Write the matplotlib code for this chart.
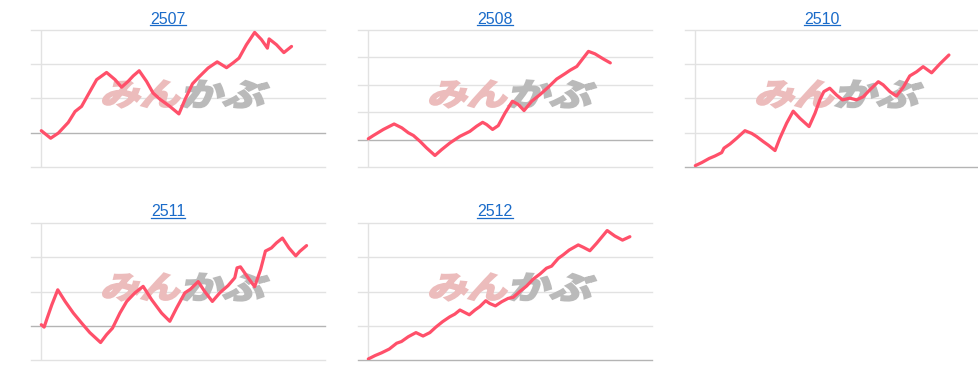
import matplotlib
matplotlib.use("Agg")
import matplotlib.pyplot as plt
from matplotlib.textpath import TextPath
from matplotlib.patches import PathPatch
from matplotlib.font_manager import FontProperties
from matplotlib.transforms import Affine2D, IdentityTransform
from matplotlib.lines import Line2D

# ---------------- data (x: position within the period, 0-100; y: change) ----------------
names = ["2507", "2508", "2510", "2511", "2512"]

x_2507 = [0, 3.3, 6.0, 9.5, 11.9, 14.2, 16.5, 19.5, 23.0, 26.0, 28.3, 30.6, 32.4, 34.5, 37.1,
          39.4, 41.8, 45.3, 48.5, 50.6, 53.3, 55.6, 58.8, 62.0, 65.3, 67.6, 69.7, 72.3, 75.2,
          77.6, 79.7, 80.3, 82.9, 85.5, 88.2]
y_2507 = [0.6, -1.6, -0.1, 3.0, 6.2, 7.7, 11.1, 15.5, 17.6, 15.5, 13.3, 15.0, 16.6, 18.1, 15.0,
          11.6, 9.8, 7.7, 5.5, 9.6, 14.3, 16.3, 18.9, 20.7, 19.0, 20.4, 21.8, 25.7, 29.3,
          27.2, 24.7, 27.4, 25.7, 23.4, 25.2]

x_2508 = [0, 1.8, 5.3, 9.1, 11.8, 14.1, 15.9, 18.2, 20.5, 23.5, 25.8, 28.8, 32.3, 35.8, 38.2,
          40.3, 41.7, 43.8, 45.8, 48.2, 50.8, 52.9, 54.9, 57.6, 60.5, 63.5, 66.4, 69.4, 71.1,
          73.5, 75.8, 77.6, 79.9, 82.9, 85.3]
y_2508 = [0.3, 1.5, 3.7, 5.7, 4.3, 2.5, 1.5, -0.6, -3.0, -5.8, -3.7, -1.2, 1.2, 3.0, 4.9,
          6.3, 5.5, 3.7, 5.1, 9.7, 14.0, 12.8, 10.6, 14.0, 16.4, 19.2, 22.1, 24.1, 25.3,
          26.7, 29.8, 32.2, 31.3, 29.4, 28.0]

x_2510 = [0, 2.3, 4.9, 6.9, 9.3, 10.1, 12.2, 14.6, 17.5, 19.9, 21.6, 24.0, 25.7, 28.1, 29.8,
          32.2, 34.5, 36.9, 40.1, 42.2, 43.9, 45.3, 47.4, 49.8, 51.9, 54.5, 56.8, 59.2, 61.5,
          64.5, 66.2, 68.6, 70.9, 73.3, 75.6, 78.0, 80.3, 83.3, 86.2, 89.4]
y_2510 = [0.4, 1.3, 2.5, 3.2, 4.2, 5.5, 6.7, 8.4, 10.6, 9.8, 8.9, 7.4, 6.4, 4.8, 8.4,
          12.8, 16.3, 14.2, 11.8, 15.7, 19.6, 22.0, 23.0, 21.0, 19.6, 20.1, 19.6, 20.5, 22.5,
          24.9, 24.0, 22.0, 20.7, 23.3, 26.6, 27.8, 29.3, 27.5, 30.1, 32.7]

x_2511 = [0, 1.0, 2.1, 3.7, 5.8, 8.4, 11.3, 14.2, 17.1, 20.9, 23.0, 25.1, 27.7, 30.1, 33.0,
          35.9, 38.9, 42.4, 45.3, 47.7, 50.6, 52.6, 55.3, 57.6, 60.3, 62.9, 65.8, 68.2, 69.0,
          70.2, 72.9, 75.2, 77.3, 79.0, 81.1, 82.9, 85.0, 87.3, 89.7, 91.1, 93.5]
y_2511 = [0.3, -0.4, 2.3, 6.1, 10.5, 7.1, 3.7, 0.8, -2.0, -4.9, -2.6, -0.7, 3.7, 7.1, 9.6,
          11.5, 7.6, 3.7, 1.3, 5.2, 9.6, 10.7, 12.9, 10.0, 7.1, 9.6, 11.7, 14.0, 16.9,
          17.2, 14.0, 11.4, 16.4, 21.8, 22.7, 24.2, 25.6, 22.7, 20.4, 21.7, 23.4]

x_2512 = [0, 2.4, 4.7, 7.4, 10.0, 11.7, 14.1, 16.8, 19.3, 21.7, 23.8, 26.2, 28.7, 30.5, 32.3,
          35.6, 37.6, 39.3, 41.4, 42.8, 44.8, 47.0, 49.3, 51.1, 53.4, 55.8, 58.1, 60.5, 62.8,
          64.6, 67.0, 68.7, 70.8, 74.0, 75.8, 78.1, 80.5, 82.2, 84.2, 86.9, 89.6, 92.2]
y_2512 = [0.3, 1.3, 2.1, 3.2, 4.9, 5.4, 6.8, 8.0, 7.0, 8.0, 9.6, 11.2, 12.6, 13.4, 14.6,
          13.2, 14.6, 15.6, 17.3, 16.5, 15.8, 17.0, 18.0, 18.3, 20.0, 21.6, 23.6, 25.1, 26.8,
          27.4, 29.7, 30.7, 32.1, 33.6, 32.9, 31.9, 34.1, 35.8, 37.8, 36.2, 35.0, 36.0]

xs = [x_2507, x_2508, x_2510, x_2511, x_2512]
ys = [y_2507, y_2508, y_2510, y_2511, y_2512]
y_ranges = [(-10, 30), (-10, 40), (0, 40), (-10, 30), (0, 40)]

# ---------------- style ----------------
LINE = "#ff506a"
GRID = "#e2e2e2"
BASE = "#b4b4b4"
TITLE = "#1a6bc9"
PINK = "#ecbcbc"
GREY = "#bababa"

W, H = 979, 382
fig = plt.figure(figsize=(W / 100, H / 100), dpi=100)
fig.patch.set_facecolor("white")

jp = FontProperties(family="Noto Sans CJK JP", weight="bold")


def watermark(ax):
    cx, cy = ax.transAxes.transform((0.524, 0.533))
    parts = [("みん", PINK, -80, -4), ("かぶ", GREY, 0, 82)]
    for txt, col, x0, x1 in parts:
        tp = TextPath((0, 0), txt, size=1, prop=jp)
        ext = tp.get_extents()
        sx = (x1 - x0) / ext.width
        sy = 27 / ext.height
        tr = (Affine2D().translate(-ext.x0, -ext.y0).scale(sx, sy)
              .skew_deg(16, 0).translate(cx + x0 - 4, cy - 13.5))
        patch = PathPatch(tp, facecolor=col, edgecolor=col, linewidth=1.6,
                          joinstyle="miter", transform=tr + IdentityTransform(), zorder=1.5)
        ax.add_artist(patch)


titles = []
for i, (name, x, y, (ylo, yhi)) in enumerate(zip(names, xs, ys, y_ranges)):
    col, row = i % 3, i // 3
    left = 31 + 327 * col
    top = 30 + 193 * row
    ax = fig.add_axes([left / W, 1 - (top + 137) / H, 294 / W, 137 / H])
    ax.set_facecolor("none")
    ax.set_xlim(-3.63, 100)
    ax.set_ylim(ylo, yhi)
    ax.axis("off")
    for v in range(ylo, yhi + 1, 10):
        ax.axhline(v, color=BASE if v == 0 else GRID, lw=1.0, zorder=0.5, clip_on=False)
    ax.axvline(0, color=GRID, lw=1.0, zorder=0.6)
    watermark(ax)
    ax.plot(x, y, color=LINE, lw=2.3, solid_joinstyle="round", solid_capstyle="round", zorder=3)
    t = fig.text((left + 137) / W, 1 - (23.5 + 193 * row) / H, name, ha="center", va="baseline",
                 color=TITLE, fontsize=11.5, family="Liberation Sans")
    titles.append((t, row))

fig.canvas.draw()
r = fig.canvas.get_renderer()
for t, row in titles:
    bb = t.get_window_extent(r)
    yline = 1 - (25 + 193 * row) / H
    fig.add_artist(Line2D([bb.x0 / W, bb.x1 / W], [yline, yline], color=TITLE, lw=0.9,
                          transform=fig.transFigure))

fig.savefig("out.png", dpi=100, facecolor="white")
